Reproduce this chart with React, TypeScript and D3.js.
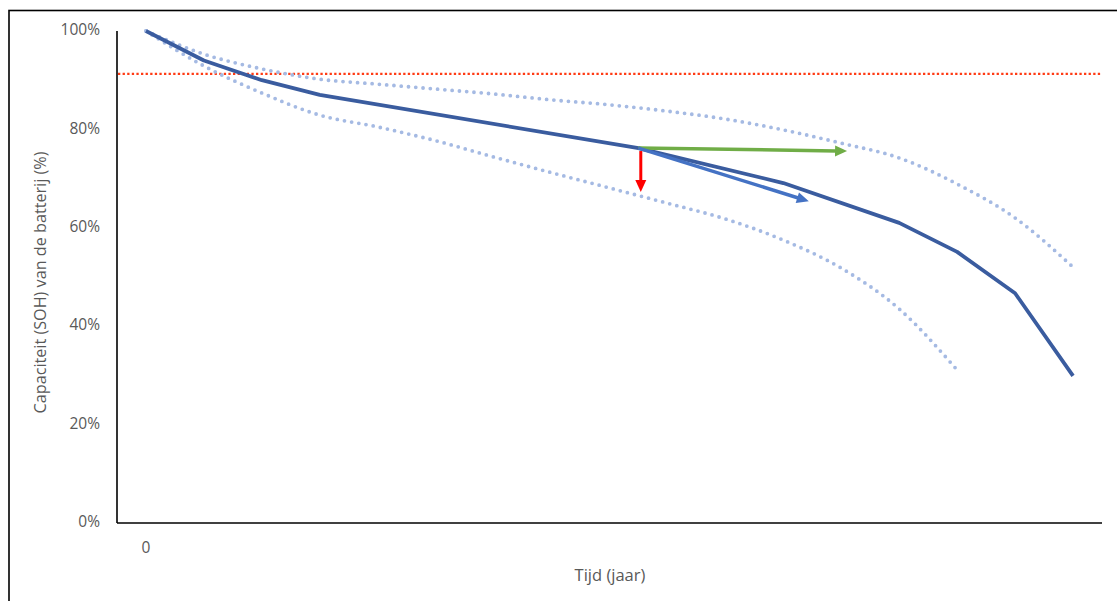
import React from "react";
import * as d3 from "d3";

// ---- data ----
const yTicks = [0, 20, 40, 60, 80, 100];
const xTickLabels = ["0"];
const mainYears = [0, 1, 2, 3, 8.5, 11, 13, 14, 15, 16];
const mainSOH = [100, 94, 90, 87, 76.2, 69.1, 61, 55.1, 46.7, 29.9];
const upperYears = [0, 1, 2, 3, 4, 5, 6, 7, 8, 9, 10, 11, 12, 13, 14, 15, 16];
const upperSOH = [100, 95.3, 92.3, 90.2, 89.2, 88.2, 87.2, 86, 85, 83.7, 82.1, 79.9, 77.2, 74.2, 68.9, 62, 52];
const lowerYears = [0, 1, 2, 3, 4, 5, 6, 7, 8, 9, 10, 11, 12, 13, 14];
const lowerSOH = [100, 92.9, 87.4, 82.9, 80.5, 77.7, 74.4, 71.2, 68.1, 65, 61.8, 57.5, 51.8, 43.5, 31.1];
const thresholdSOH = 91.3;
// annotation arrows in data units: [x1, y1, x2, y2]
const arrowGreen = [8.5, 76.2, 12.1, 75.6];
const arrowBlue = [8.5, 76.2, 11.44, 65.4];
const arrowRed = [8.54, 75.6, 8.54, 67.3];

const W = 1117;
const H = 601;

export default function App() {
  const x = d3.scaleLinear().domain([-0.5, 16.5]).range([117, 1102]);
  const y = d3.scaleLinear().domain([0, 100]).range([523, 31]);

  const lineLinear = d3
    .line<[number, number]>()
    .x((d) => x(d[0]))
    .y((d) => y(d[1]));
  const lineSmooth = d3
    .line<[number, number]>()
    .x((d) => x(d[0]))
    .y((d) => y(d[1]))
    .curve(d3.curveMonotoneX);

  const mainPts = mainYears.map((v, i) => [v, mainSOH[i]] as [number, number]);
  const upperPts = upperYears.map((v, i) => [v, upperSOH[i]] as [number, number]);
  const lowerPts = lowerYears.map((v, i) => [v, lowerSOH[i]] as [number, number]);

  const arrow = (a: number[], color: string, width: number, headLen: number, headW: number) => {
    const x1 = x(a[0]);
    const y1 = y(a[1]);
    const x2 = x(a[2]);
    const y2 = y(a[3]);
    const dx = x2 - x1;
    const dy = y2 - y1;
    const len = Math.sqrt(dx * dx + dy * dy);
    const ux = dx / len;
    const uy = dy / len;
    const bx = x2 - ux * headLen;
    const by = y2 - uy * headLen;
    const px = -uy * (headW / 2);
    const py = ux * (headW / 2);
    return (
      <g>
        <line x1={x1} y1={y1} x2={bx + ux * 1} y2={by + uy * 1} stroke={color} strokeWidth={width} />
        <polygon
          points={`${x2},${y2} ${bx + px},${by + py} ${bx - px},${by - py}`}
          fill={color}
        />
      </g>
    );
  };

  const font = "'Open Sans', Lato, 'Noto Sans', sans-serif";

  return (
    <svg
      width={W}
      height={H}
      style={{ position: "absolute", left: 0, top: 0, background: "#fff" }}
    >
      <rect x={0} y={0} width={W} height={H} fill="#fff" />
      {/* outer frame (cropped) */}
      <rect x={9} y={10.5} width={W + 20} height={H + 20} fill="none" stroke="#000" strokeWidth={1.6} />

      {/* y tick labels */}
      {yTicks.map((t) => (
        <text
          key={t}
          x={100}
          y={y(t)}
          textAnchor="end"
          dominantBaseline="middle"
          fontFamily={font}
          fontSize={15.5}
          fill="#595959"
        >
          {`${t}%`}
        </text>
      ))}
      {/* x tick label */}
      {xTickLabels.map((l, i) => (
        <text
          key={l}
          x={x(i)}
          y={549}
          textAnchor="middle"
          dominantBaseline="middle"
          fontFamily={font}
          fontSize={15.5}
          fill="#595959"
        >
          {l}
        </text>
      ))}

      {/* axis titles */}
      <text
        transform={`translate(42, ${(150 + 415) / 2}) rotate(-90)`}
        textAnchor="middle"
        dominantBaseline="middle"
        fontFamily={font}
        fontSize={16.2}
        fill="#595959"
      >
        Capaciteit (SOH) van de batterij (%)
      </text>
      <text
        x={610}
        y={577}
        textAnchor="middle"
        dominantBaseline="middle"
        fontFamily={font}
        fontSize={16.5}
        fill="#595959"
      >
        Tijd (jaar)
      </text>

      {/* axes */}
      <line x1={117} y1={y(100)} x2={117} y2={y(0)} stroke="#000" strokeWidth={1.6} />
      <line x1={117} y1={y(0)} x2={1102} y2={y(0)} stroke="#000" strokeWidth={1.6} />

      {/* threshold */}
      <line
        x1={118}
        y1={y(thresholdSOH)}
        x2={1102}
        y2={y(thresholdSOH)}
        stroke="#FF3B14"
        strokeWidth={2.3}
        strokeDasharray="2.3 2.3"
      />

      {/* dotted scenario lines */}
      <path
        d={lineSmooth(upperPts) || ""}
        fill="none"
        stroke="#A5BAE3"
        strokeWidth={3.8}
        strokeLinecap="round"
        strokeDasharray="0 7.3"
      />
      <path
        d={lineSmooth(lowerPts) || ""}
        fill="none"
        stroke="#A5BAE3"
        strokeWidth={3.8}
        strokeLinecap="round"
        strokeDasharray="0 7.3"
      />

      {/* main line */}
      <path
        d={lineLinear(mainPts) || ""}
        fill="none"
        stroke="#3A5C9F"
        strokeWidth={3.8}
        strokeLinejoin="round"
      />

      {/* annotation arrows */}
      {arrow(arrowGreen, "#70AD47", 3.5, 12, 11)}
      {arrow(arrowBlue, "#4472C4", 3.5, 12, 11)}
      {arrow(arrowRed, "#FF0000", 3, 12, 11)}
    </svg>
  );
}
